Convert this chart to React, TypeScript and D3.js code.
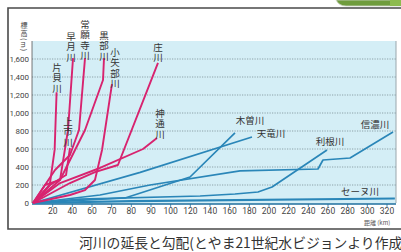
import * as d3 from 'd3'

const W = 401
const H = 252

// x axis: evenly spaced tick slots, labelled as printed in the source
const X_TICK_LABELS = ['20', '40', '60', '70', '80', '90', '100', '120', '140', '160', '180', '200', '220', '240', '260', '280', '300', '320']
const Y_TICKS = [0, 200, 400, 600, 800, 1000, 1200, 1400, 1600]

// rivers: [distance slot, elevation m]
const KATAKAI = [[0, 0], [17, 200], [22, 590], [24, 1230]]
const HAYATSUKI = [[0, 0], [27.5, 256], [35.6, 811], [40.7, 1610]]
const JOGANJI = [[0, 0], [22.4, 367], [37.6, 533], [46.8, 811], [52.9, 1610]]
const KAMIICHI = [[0, 0], [17.3, 200], [33.6, 311], [37.6, 611]]
const KUROBE = [[0, 0], [12.2, 200], [27.5, 256], [52.9, 811], [71.2, 1367], [72.2, 1610]]
const OYABE = [[0, 0], [37.6, 89], [52.9, 144], [63, 256], [70.2, 589], [80.3, 1322]]
const SHO = [[0, 0], [37.6, 222], [63, 344], [86.4, 422], [127.1, 1556]]
const JINZU = [[0, 0], [27.5, 222], [68.1, 389], [111.9, 600], [126.1, 722]]

const KISO = [[0, 0], [93.6, 56], [159.7, 289], [205.4, 778]]
const TENRYU = [[0, 0], [109, 340], [222.7, 733]]
const SHINANO = [[0, 0], [68.1, 89], [119, 200], [210.5, 356], [289.8, 378], [294.9, 478], [322.4, 500], [366.1, 789]]
const TONE = [[0, 0], [47.8, 44], [169.9, 78], [205.4, 100], [228.8, 122], [243.1, 178], [299, 589]]
const SEINE = [[0, 0], [100, 20], [368, 50]]

const JP_RIVERS = [
  { name: '片貝川', pts: KATAKAI, label: [24.4, 1544] },
  { name: '早月川', pts: HAYATSUKI, label: [38.6, 1889] },
  { name: '常願寺川', pts: JOGANJI, label: [52.9, 2022] },
  { name: '上市川', pts: KAMIICHI, label: [35.6, 944] },
  { name: '黒部川', pts: KUROBE, label: [72.2, 1900] },
  { name: '小矢部川', pts: OYABE, label: [83.4, 1711] },
  { name: '庄川', pts: SHO, label: [127.1, 1767] },
  { name: '神通川', pts: JINZU, label: [129.2, 1033] },
]

const OTHER_RIVERS = [
  { name: '木曽川', pts: KISO, label: [220.7, 911] },
  { name: '天竜川', pts: TENRYU, label: [242, 767] },
  { name: '利根川', pts: TONE, label: [302, 678] },
  { name: '信濃川', pts: SHINANO, label: [347.8, 867] },
  { name: 'セーヌ川', pts: SEINE, label: [332.6, 122] },
]

const PINK = '#d8236f'
const BLUE = '#2a86b8'
const FONT = '"Noto Sans CJK JP", "Noto Sans", sans-serif'

export default function App() {
  const x = d3.scaleLinear().domain([0, 360]).range([33, 387])
  const y = d3.scaleLinear().domain([0, 1800]).range([203, 41])
  const line = d3.line<number[]>().x(d => x(d[0])).y(d => y(d[1]))
  const fmt = d3.format(',')

  const plotL = x(-1)
  const plotR = 396

  return (
    <svg width={W} height={H} style={{ position: 'absolute', left: 0, top: 0, background: '#fff' }} fontFamily={FONT}>
      {/* green tab at top right */}
      <path d="M336 0 Q339 6 346 6 L401 6 L401 0 Z" fill="#6f9c3d" stroke="#cfd6c8" strokeWidth={0.8} />
      <rect x={390} y={0} width={11} height={6} fill="#8dbb4f" />

      {/* frame */}
      <path d={`M${W + 2} 8 L8 8 L8 229 L${W + 2} 229`} fill="none" stroke="#4a4a4a" strokeWidth={1.6} />

      {/* plot background */}
      <rect x={plotL} y={y(1800)} width={plotR - plotL} height={y(0) - y(1800) + 1} fill="#d4eef6" />
      <line x1={plotR} x2={plotR} y1={y(1800)} y2={y(0)} stroke="#9aa7ad" strokeWidth={1} />

      {/* grid */}
      {Y_TICKS.filter(t => t > 0).map(t => (
        <line key={t} x1={plotL} x2={plotR} y1={y(t)} y2={y(t)} stroke="#6f7f86" strokeWidth={0.7} strokeDasharray="1.2,1.3" />
      ))}

      {/* y axis */}
      <line x1={plotL} x2={plotL} y1={y(1800)} y2={y(0)} stroke="#555" strokeWidth={0.8} />
      {Y_TICKS.map(t => (
        <text key={t} x={29} y={y(t)} dy="0.35em" textAnchor="end" fontSize={8} fill="#444" fontFamily="Roboto, sans-serif">
          {fmt(t)}
        </text>
      ))}
      <text x={24} y={22} fontSize={7} fill="#444" style={{ writingMode: 'vertical-rl' }} letterSpacing={1}>
        標高(m)
      </text>

      {/* x axis */}
      <line x1={plotL} x2={plotR} y1={y(0) + 1} y2={y(0) + 1} stroke="#1f6f9e" strokeWidth={1.6} />
      {X_TICK_LABELS.map((lab, i) => (
        <g key={lab}>
          <line x1={x((i + 1) * 20)} x2={x((i + 1) * 20)} y1={y(0) + 1} y2={y(0) + 4} stroke="#1f6f9e" strokeWidth={0.8} />
          <text x={x((i + 1) * 20)} y={214} textAnchor="middle" fontSize={8.5} fill="#444" fontFamily="Roboto, sans-serif">
            {lab}
          </text>
        </g>
      ))}
      <text x={364} y={225} fontSize={6} fill="#555">距離 (km)</text>

      {/* other rivers */}
      {OTHER_RIVERS.map(r => (
        <path key={r.name} d={line(r.pts) || ''} fill="none" stroke={BLUE} strokeWidth={r.name === 'セーヌ川' ? 2.2 : 1.7} strokeLinejoin="round" />
      ))}

      {/* Toyama rivers */}
      {JP_RIVERS.map(r => (
        <path key={r.name} d={line(r.pts) || ''} fill="none" stroke={PINK} strokeWidth={1.9} strokeLinejoin="round" />
      ))}

      {/* vertical labels */}
      {JP_RIVERS.map(r => (
        <text
          key={r.name}
          x={x(r.label[0])}
          y={y(r.label[1]) - 1.5}
          fontSize={9.5}
          fill="#333"
          letterSpacing={1}
          style={{ writingMode: 'vertical-rl' }}
        >
          {r.name}
        </text>
      ))}

      {/* horizontal labels */}
      {OTHER_RIVERS.map(r => (
        <text key={r.name} x={x(r.label[0])} y={y(r.label[1])} dy="0.35em" textAnchor="middle" fontSize={9.5} fill="#333">
          {r.name}
        </text>
      ))}

      {/* caption */}
      <text x={79} y={248} fontSize={13.8} fill="#333">河川の延長と勾配(とやま21世紀水ビジョンより作成</text>
    </svg>
  )
}
